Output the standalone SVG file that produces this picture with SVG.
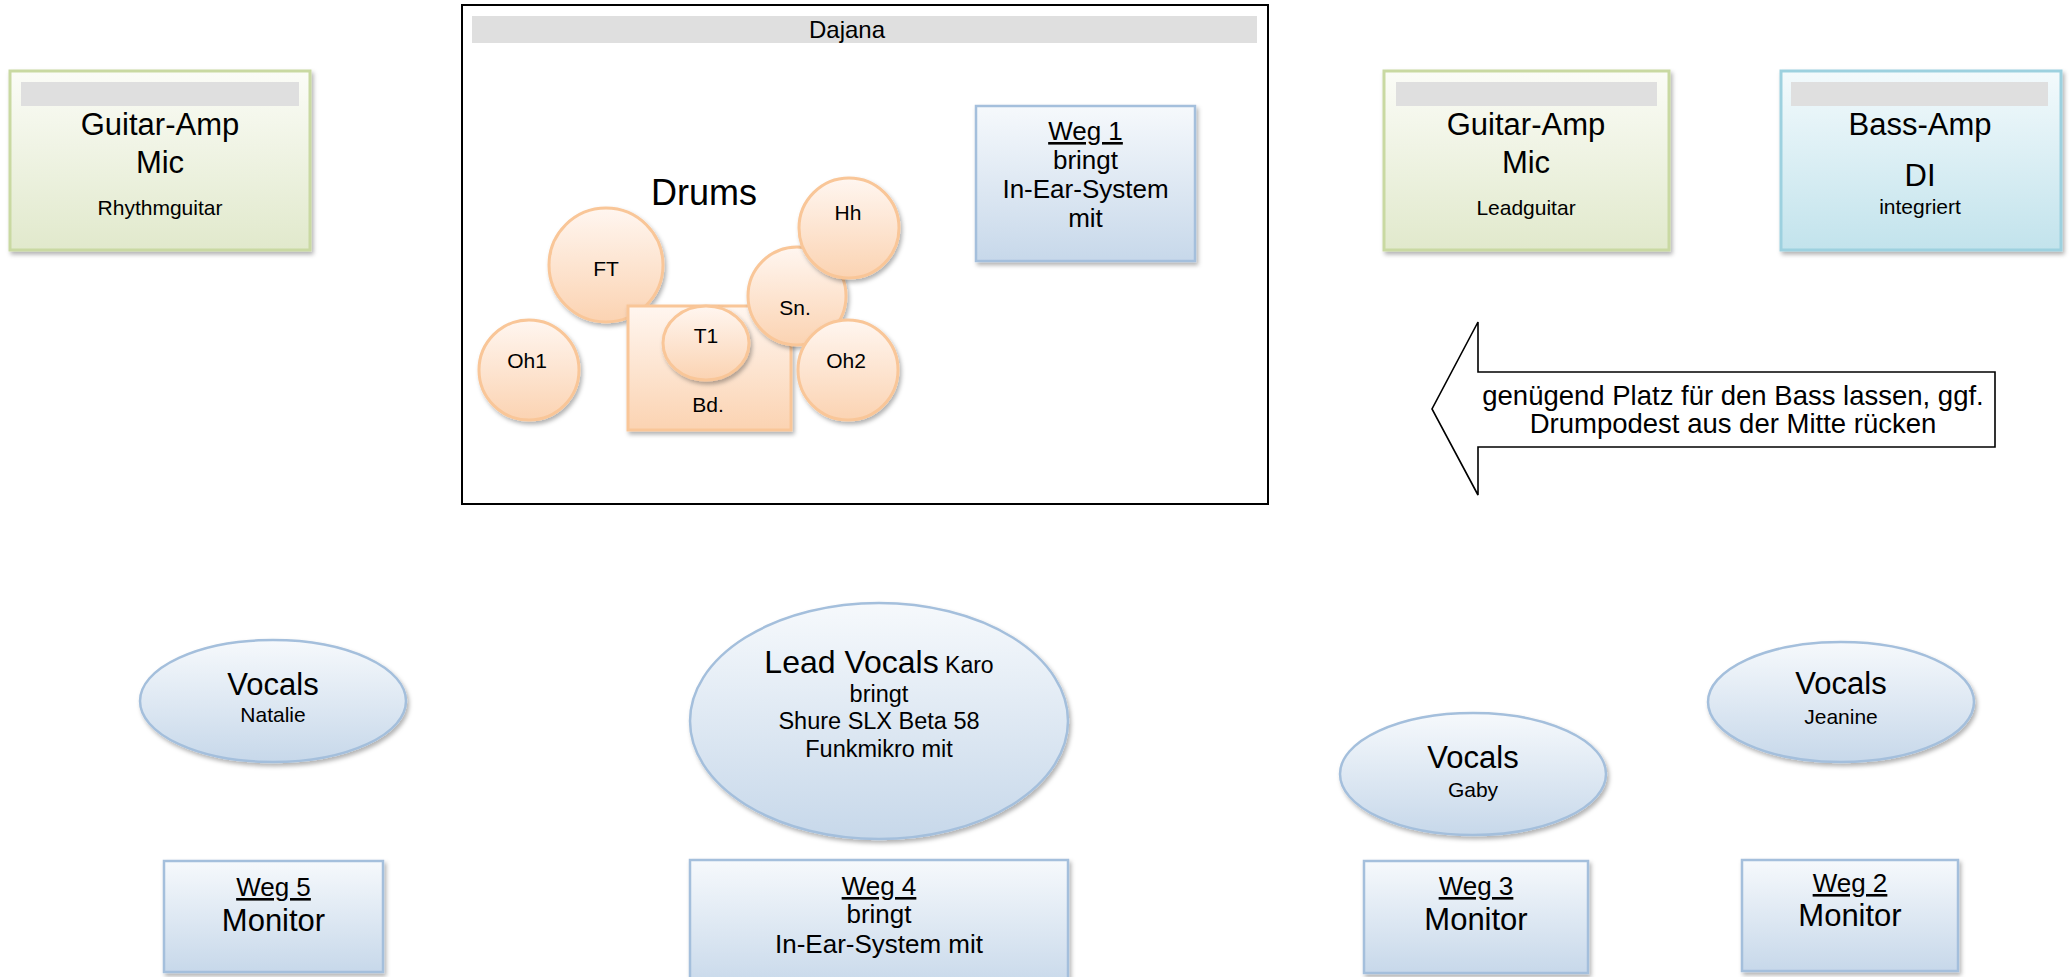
<svg xmlns="http://www.w3.org/2000/svg" width="2069" height="977" viewBox="0 0 2069 977">
<defs>
<linearGradient id="gGreen" x1="0" y1="0" x2="0" y2="1"><stop offset="0" stop-color="#fbfcf7"/><stop offset="1" stop-color="#e1e9cc"/></linearGradient>
<linearGradient id="gBlue" x1="0" y1="0" x2="0" y2="1"><stop offset="0" stop-color="#f6f9fc"/><stop offset="1" stop-color="#c7d8ea"/></linearGradient>
<linearGradient id="gCyan" x1="0" y1="0" x2="0" y2="1"><stop offset="0" stop-color="#f3fafc"/><stop offset="1" stop-color="#c2e3ec"/></linearGradient>
<linearGradient id="gOrange" x1="0" y1="0" x2="0" y2="1"><stop offset="0" stop-color="#fff6f0"/><stop offset="1" stop-color="#fbd3b2"/></linearGradient>
<filter id="sh" x="-10%" y="-10%" width="125%" height="130%"><feDropShadow dx="2" dy="3" stdDeviation="2" flood-color="#000" flood-opacity="0.3"/></filter>
</defs>
<style>
text{font-family:"Liberation Sans",Arial,sans-serif;fill:#000;text-anchor:middle}
.green{fill:url(#gGreen);stroke:#c9d9a2;stroke-width:3;filter:url(#sh)}
.blue{fill:url(#gBlue);stroke:#a4bfdc;stroke-width:2.5;filter:url(#sh)}
.cyan{fill:url(#gCyan);stroke:#9dd1df;stroke-width:3;filter:url(#sh)}
.orange{fill:url(#gOrange);stroke:#f9c698;stroke-width:3;filter:url(#sh)}
.bar{fill:#dfdfdf}
.big{font-size:31px}
.mid{font-size:26px}
.sm{font-size:21px}
.lv{font-size:23.5px}
.u{text-decoration:underline}
</style>
<rect width="2069" height="977" fill="#fff"/>

<g id="guitar-amp-rhythm">
<rect class="green" x="10" y="71" width="300" height="179"/>
<rect class="bar" x="21" y="82" width="278" height="24"/>
<text class="big" x="160" y="135">Guitar-Amp</text>
<text class="big" x="160" y="173">Mic</text>
<text class="sm" x="160" y="215">Rhythmguitar</text>
</g>

<g id="dajana">
<rect x="462" y="5" width="806" height="499" fill="#fff" stroke="#000" stroke-width="2"/>
<rect class="bar" x="472" y="16" width="785" height="27"/>
<text x="847" y="38" style="font-size:24px">Dajana</text>
<text x="704" y="205" style="font-size:36px">Drums</text>
</g>

<g id="drum-ft"><circle class="orange" cx="606" cy="265" r="57"/><text class="sm" x="606" y="276">FT</text></g>
<g id="drum-oh1"><circle class="orange" cx="529" cy="370" r="50"/><text class="sm" x="527" y="368">Oh1</text></g>
<g id="drum-bd"><rect class="orange" x="628" y="306" width="163" height="124"/><text class="sm" x="708" y="412">Bd.</text></g>
<g id="drum-t1"><ellipse class="orange" cx="706" cy="343" rx="43" ry="37"/><text class="sm" x="706" y="343">T1</text></g>
<g id="drum-sn"><circle class="orange" cx="797" cy="296" r="49"/><text class="sm" x="795" y="315">Sn.</text></g>
<g id="drum-hh"><circle class="orange" cx="849" cy="228" r="50"/><text class="sm" x="848" y="220">Hh</text></g>
<g id="drum-oh2"><circle class="orange" cx="848" cy="370" r="50"/><text class="sm" x="846" y="368">Oh2</text></g>

<g id="weg1">
<rect class="blue" x="976" y="106" width="219" height="155"/>
<text class="mid u" x="1085.5" y="140">Weg 1</text>
<text class="mid" x="1085.5" y="169">bringt</text>
<text class="mid" x="1085.5" y="198">In-Ear-System</text>
<text class="mid" x="1085.5" y="227">mit</text>
</g>

<g id="guitar-amp-lead">
<rect class="green" x="1384" y="71" width="285" height="179"/>
<rect class="bar" x="1396" y="82" width="261" height="24"/>
<text class="big" x="1526" y="135">Guitar-Amp</text>
<text class="big" x="1526" y="173">Mic</text>
<text class="sm" x="1526" y="215">Leadguitar</text>
</g>

<g id="bass-amp">
<rect class="cyan" x="1781" y="71" width="280" height="179"/>
<rect class="bar" x="1791" y="82" width="257" height="24"/>
<text class="big" x="1920" y="135">Bass-Amp</text>
<text class="big" x="1920" y="186">DI</text>
<text class="sm" x="1920" y="214">integriert</text>
</g>

<g id="note-arrow">
<polygon points="1995,372 1478,372 1478,322 1432,409 1478,495 1478,447 1995,447" fill="#fff" stroke="#000" stroke-width="1.6"/>
<text x="1733" y="405" style="font-size:27.5px">genügend Platz für den Bass lassen, ggf.</text>
<text x="1733" y="433" style="font-size:27.5px">Drumpodest aus der Mitte rücken</text>
</g>

<g id="vocals-natalie">
<ellipse class="blue" cx="273" cy="701" rx="133" ry="61"/>
<text class="big" x="273" y="695">Vocals</text>
<text class="sm" x="273" y="722">Natalie</text>
</g>

<g id="lead-vocals-karo">
<ellipse class="blue" cx="879" cy="721" rx="189" ry="118"/>
<text x="879" y="673"><tspan style="font-size:32px">Lead Vocals</tspan><tspan style="font-size:23px"> Karo</tspan></text>
<text class="lv" x="879" y="702">bringt</text>
<text class="lv" x="879" y="729">Shure SLX Beta 58</text>
<text class="lv" x="879" y="757">Funkmikro mit</text>
</g>

<g id="vocals-gaby">
<ellipse class="blue" cx="1473" cy="774" rx="133" ry="61"/>
<text class="big" x="1473" y="768">Vocals</text>
<text class="sm" x="1473" y="797">Gaby</text>
</g>

<g id="vocals-jeanine">
<ellipse class="blue" cx="1841" cy="702" rx="133" ry="60"/>
<text class="big" x="1841" y="694">Vocals</text>
<text class="sm" x="1841" y="724">Jeanine</text>
</g>

<g id="weg5">
<rect class="blue" x="164" y="861" width="219" height="111"/>
<text class="mid u" x="273.5" y="896">Weg 5</text>
<text class="big" x="273.5" y="931">Monitor</text>
</g>

<g id="weg4">
<rect class="blue" x="690" y="860" width="378" height="130"/>
<text class="mid u" x="879" y="895">Weg 4</text>
<text class="mid" x="879" y="923">bringt</text>
<text class="mid" x="879" y="953">In-Ear-System mit</text>
</g>

<g id="weg3">
<rect class="blue" x="1364" y="861" width="224" height="112"/>
<text class="mid u" x="1476" y="895">Weg 3</text>
<text class="big" x="1476" y="930">Monitor</text>
</g>

<g id="weg2">
<rect class="blue" x="1742" y="860" width="216" height="111"/>
<text class="mid u" x="1850" y="892">Weg 2</text>
<text class="big" x="1850" y="926">Monitor</text>
</g>

<g id="connectors"/>
</svg>
